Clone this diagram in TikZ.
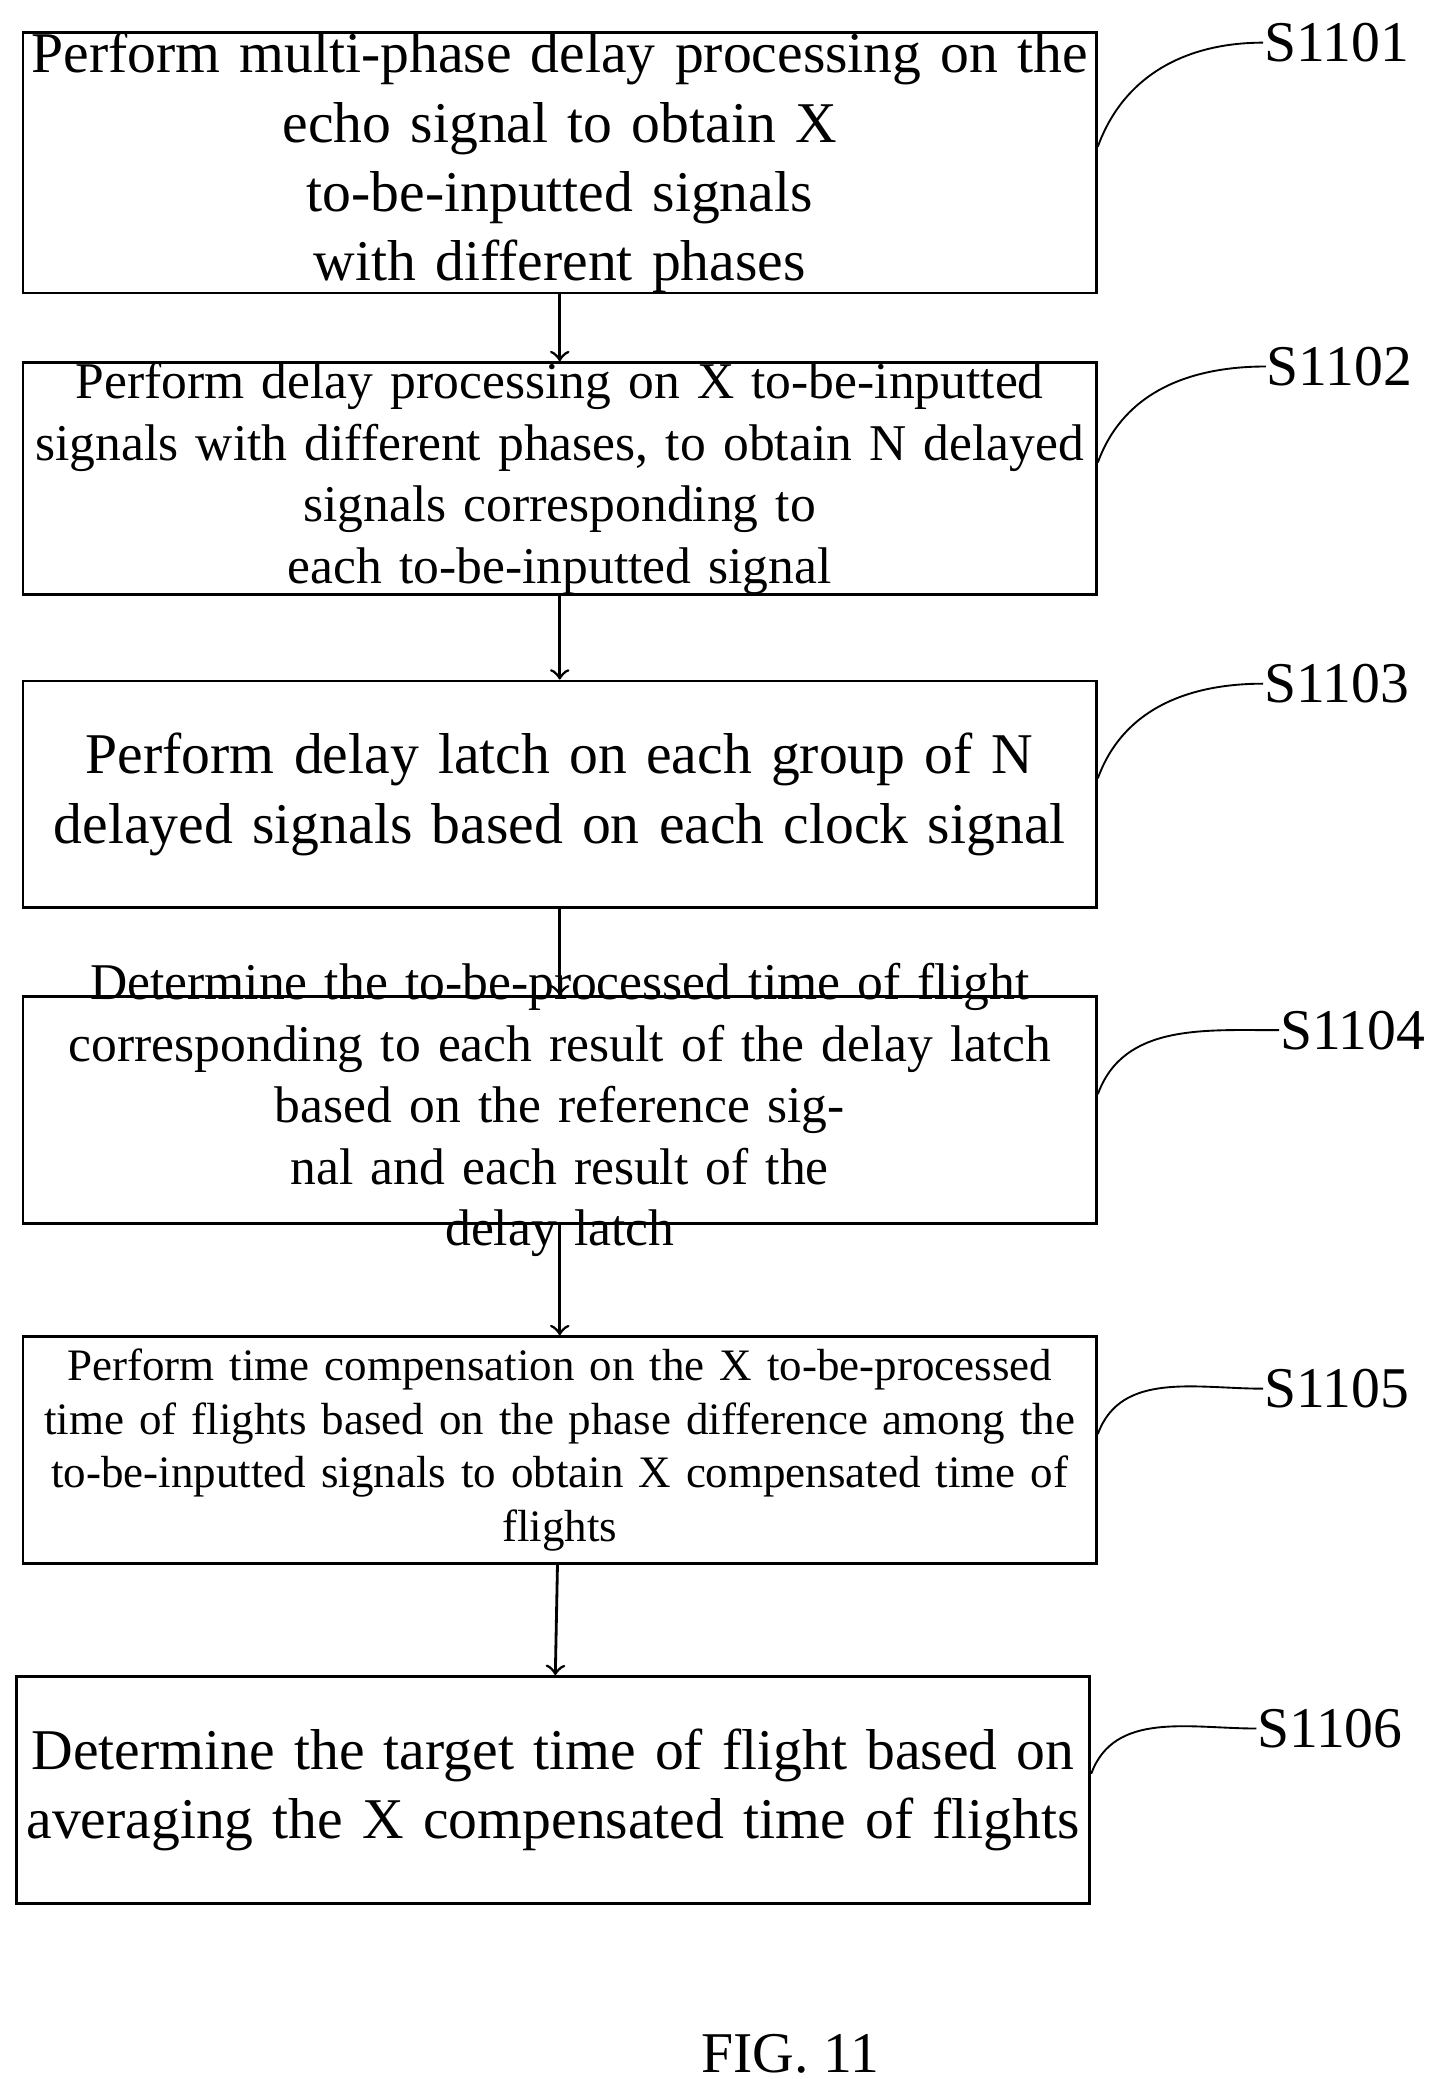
\documentclass[tikz,border=0pt]{standalone}
\usepackage{fontspec}
\setmainfont{Liberation Serif}
\usetikzlibrary{positioning}

\begin{document}
\begin{tikzpicture}[x=0.01cm,y=-0.01cm,
	n_box/.style={
		rectangle,
		draw,
		semithick,
		minimum width=8.05cm,
		minimum height=1.7cm,
		text width=8cm,
		align=center,
		inner sep=0pt,
		},
	big/.style={font=\fontsize{12.3}{14.8}\selectfont},
	mid/.style={font=\fontsize{11}{13.1}\selectfont},
	small/.style={font=\fontsize{9.6}{11.4}\selectfont},
	tag/.style={font=\fontsize{12.3}{14.8}\selectfont, inner sep=0pt},
	]
	\useasboundingbox (0,0) rectangle (1080,1560);

	\node(b1)[n_box,big] at (420,122){Perform multi-phase delay processing on the\\echo signal to obtain X to-be-inputted signals\\with different phases};
	\node(b2)[n_box,mid] at (420,359){Perform delay processing on X to-be-inputted\\signals with different phases, to obtain N delayed\\signals corresponding to each to-be-inputted signal};
	\node(b3)[n_box,big] at (420,596){Perform delay latch on each group of N\\delayed signals based on each clock signal};
	\node(b4)[n_box,mid,text height=0pt,text depth=0pt] at (420,833){};
	\node(b4t)[mid,text width=8cm,align=center] at (420,833){Determine the to-be-processed time of flight\\corresponding to each result of the delay latch\\based on the reference signal and each result of the\\delay latch};
	\node(b5)[n_box,text height=0pt,text depth=0pt] at (420,1088){};
	\node(b5t)[small,text width=8cm,align=center] at (420,1088){Perform time compensation on the X to-be-processed\\time of flights based on the phase difference among the\\to-be-inputted signals to obtain X compensated time of\\flights};
	\node(b6)[n_box,big] at (415,1343){Determine the target time of flight based on\\averaging the X compensated time of flights};

	\node(s1)[tag] at (1003,32){S1101};
	\node(s2)[tag] at (1005,275){S1102};
	\node(s3)[tag] at (1003,513){S1103};
	\node(s4)[tag] at (1015,773){S1104};
	\node(s5)[tag] at (1003,1042){S1105};
	\node(s6)[tag] at (998,1297){S1106};

	\path (b1) edge[->,semithick] (b2);
	\path (b2) edge[->,semithick] (b3);
	\path (b3) edge[->,semithick] (b4);
	\path (b4) edge[->,semithick] (b5);
	\path (b5) edge[->,semithick] (b6);

	\draw ([yshift=0.12cm]b1.east) to[out=70,in=180] (s1.west);
	\draw ([yshift=0.12cm]b2.east) to[out=70,in=180] (s2.west);
	\draw ([yshift=0.12cm]b3.east) to[out=70,in=180] (s3.west);
	\draw ([yshift=0.12cm]b4.east) to[out=70,in=180] (s4.west);
	\draw ([yshift=0.12cm]b5.east) to[out=70,in=180] (s5.west);
	\draw ([yshift=0.12cm]b6.east) to[out=70,in=180] (s6.west);

	\node(fig)[tag] at (593,1541){FIG. 11};
\end{tikzpicture}
\end{document}
